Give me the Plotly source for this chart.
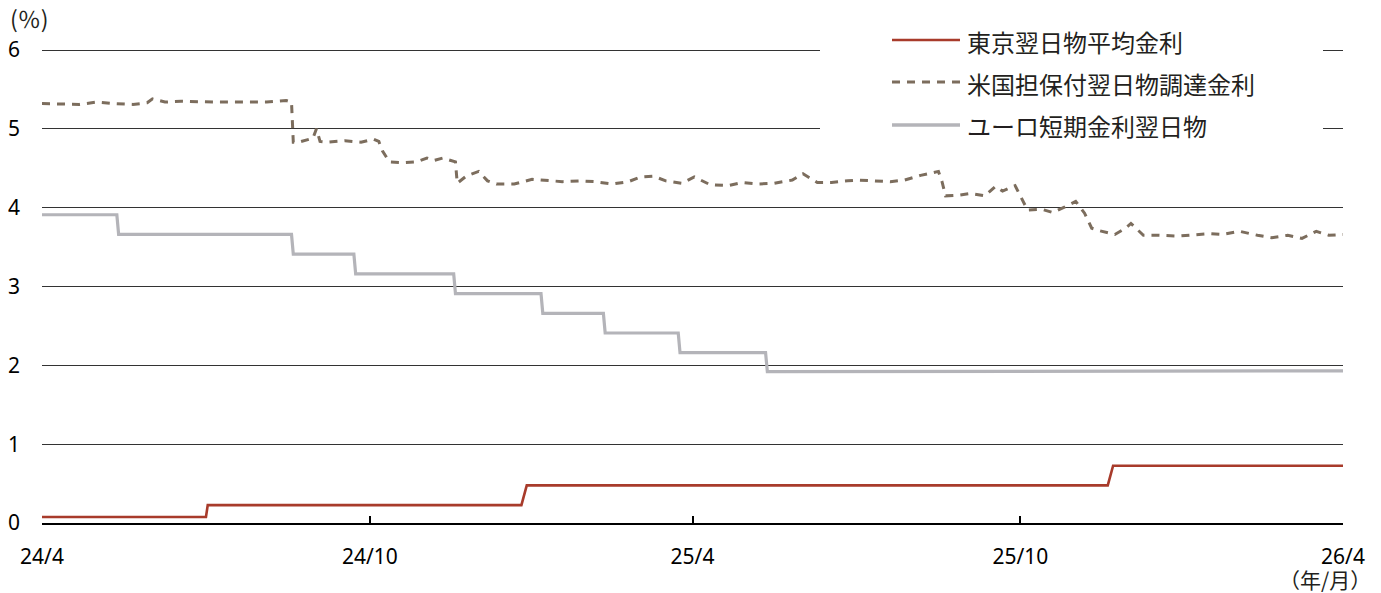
import plotly.graph_objects as go

# ---------------- data ----------------
tona_dates = ["2024-04-30", "2024-07-31", "2024-08-01", "2025-01-24", "2025-01-27",
              "2025-12-19", "2025-12-22", "2026-04-30"]
tona_values = [0.077, 0.077, 0.227, 0.227, 0.477, 0.477, 0.727, 0.727]

estr_dates = ["2024-04-30", "2024-06-11", "2024-06-12", "2024-09-17", "2024-09-18",
              "2024-10-22", "2024-10-23", "2024-12-17", "2024-12-18", "2025-02-04",
              "2025-02-05", "2025-03-11", "2025-03-12", "2025-04-22", "2025-04-23",
              "2025-06-10", "2025-06-11", "2026-04-30"]
estr_values = [3.91, 3.91, 3.66, 3.66, 3.41, 3.41, 3.16, 3.16, 2.91, 2.91,
               2.66, 2.66, 2.41, 2.41, 2.16, 2.16, 1.92, 1.93]

sofr_dates = [
    "2024-04-30", "2024-05-11", "2024-05-21", "2024-05-31", "2024-06-10", "2024-06-20",
    "2024-06-28", "2024-07-01", "2024-07-08", "2024-07-17", "2024-07-28", "2024-08-05",
    "2024-08-14", "2024-08-23", "2024-09-03", "2024-09-14", "2024-09-17", "2024-09-18",
    "2024-09-21", "2024-09-29", "2024-10-01", "2024-10-03", "2024-10-07", "2024-10-17",
    "2024-10-26", "2024-11-02", "2024-11-05", "2024-11-07", "2024-11-11", "2024-11-19",
    "2024-11-26", "2024-12-02", "2024-12-06", "2024-12-11", "2024-12-16", "2024-12-18",
    "2024-12-19", "2024-12-24", "2024-12-31", "2025-01-05", "2025-01-10", "2025-01-20",
    "2025-01-30", "2025-02-08", "2025-02-16", "2025-02-26", "2025-03-06", "2025-03-16",
    "2025-03-25", "2025-04-01", "2025-04-08", "2025-04-15", "2025-04-24", "2025-05-01",
    "2025-05-10", "2025-05-20", "2025-05-28", "2025-06-06", "2025-06-15", "2025-06-25",
    "2025-07-01", "2025-07-09", "2025-07-17", "2025-07-26", "2025-08-01", "2025-08-10",
    "2025-08-19", "2025-08-27", "2025-09-05", "2025-09-15", "2025-09-17", "2025-09-19",
    "2025-09-27", "2025-10-03", "2025-10-11", "2025-10-17", "2025-10-21", "2025-10-28",
    "2025-10-31", "2025-11-04", "2025-11-12", "2025-11-18", "2025-11-25", "2025-12-01",
    "2025-12-06", "2025-12-10", "2025-12-14", "2025-12-23", "2025-12-29", "2026-01-01",
    "2026-01-08", "2026-01-17", "2026-01-27", "2026-02-04", "2026-02-14", "2026-02-21",
    "2026-03-03", "2026-03-13", "2026-03-21", "2026-03-30", "2026-04-07", "2026-04-15",
    "2026-04-22", "2026-04-30"]
sofr_values = [
    5.32, 5.31, 5.31, 5.34, 5.32, 5.31,
    5.33, 5.38, 5.34, 5.35, 5.34, 5.34,
    5.34, 5.34, 5.34, 5.36, 5.34, 4.83,
    4.83, 4.88, 5.00, 4.84, 4.83, 4.85,
    4.83, 4.87, 4.84, 4.72, 4.58, 4.57,
    4.58, 4.63, 4.60, 4.63, 4.59, 4.58,
    4.31, 4.40, 4.46, 4.34, 4.30, 4.30,
    4.36, 4.34, 4.33, 4.34, 4.33, 4.30,
    4.33, 4.39, 4.40, 4.34, 4.31, 4.39,
    4.29, 4.28, 4.32, 4.30, 4.31, 4.35,
    4.43, 4.32, 4.32, 4.34, 4.35, 4.34,
    4.33, 4.35, 4.41, 4.46, 4.33, 4.15,
    4.16, 4.18, 4.15, 4.27, 4.21, 4.28,
    4.15, 3.97, 3.98, 3.94, 4.01, 4.08,
    3.93, 3.74, 3.71, 3.66, 3.74, 3.80,
    3.65, 3.65, 3.64, 3.65, 3.67, 3.66,
    3.70, 3.65, 3.62, 3.65, 3.61, 3.70,
    3.65, 3.66]

series_names = ["東京翌日物平均金利", "米国担保付翌日物調達金利", "ユーロ短期金利翌日物"]
x_tick_vals = ["2024-04-30", "2024-10-31", "2025-04-30", "2025-10-31", "2026-04-30"]
x_tick_text = ["24/4", "24/10", "25/4", "25/10", "26/4"]
y_tick_vals = [0, 1, 2, 3, 4, 5, 6]

# ---------------- styles ----------------
RED = "#a83b2b"
BROWN = "#7c6d5d"
GRAY = "#b4b4b9"
CJK = "Noto Sans CJK JP"
DASH = "8px,7px"

fig = go.Figure()
fig.add_trace(go.Scatter(x=estr_dates, y=estr_values, mode="lines", name=series_names[2],
                         line=dict(color=GRAY, width=3.2), showlegend=False))
fig.add_trace(go.Scatter(x=sofr_dates, y=sofr_values, mode="lines", name=series_names[1],
                         line=dict(color=BROWN, width=3, dash=DASH), showlegend=False))
fig.add_trace(go.Scatter(x=tona_dates, y=tona_values, mode="lines", name=series_names[0],
                         line=dict(color=RED, width=2.6), showlegend=False))

# page has an 8px body margin; figure sized to reach the window edges
OFF = 8
W, H = 1373, 585
L, R, T, B = 34, 38, 37, 70
pw, ph = W - L - R, H - T - B
Y_TOP = 6 + 5 / (473 / 6)   # a few pixels of headroom so the 6 gridline is drawn


def px(xpage):
    return (xpage - OFF - L) / pw


def py(ypage):
    return (OFF + T + ph - ypage) / ph


shapes = [
    dict(type="rect", xref="paper", yref="paper", x0=px(820), x1=px(1323),
         y0=py(150), y1=py(26), fillcolor="white", line=dict(width=0), layer="above"),
]
legend_rows = [(40, RED, "solid", 2.6), (82, BROWN, DASH, 3), (125, GRAY, "solid", 3.4)]
annotations = []
for (yrow, col, dash, w), name in zip(legend_rows, series_names):
    shapes.append(dict(type="line", xref="paper", yref="paper", x0=px(892), x1=px(960),
                       y0=py(yrow), y1=py(yrow), line=dict(color=col, width=w, dash=dash),
                       layer="above"))
    annotations.append(dict(text=name, xref="paper", yref="paper", x=px(965), y=py(yrow + 1),
                            xanchor="left", yanchor="middle", showarrow=False,
                            font=dict(family=CJK, size=24, color="#231f20")))

annotations.append(dict(text="(％)", xref="paper", yref="paper", x=px(9), y=py(18),
                        xanchor="left", yanchor="middle", showarrow=False, borderpad=0,
                        font=dict(family=CJK, size=23, color="#231f20")))
annotations.append(dict(text="（年/月）", xref="paper", yref="paper", x=px(1373), y=py(579),
                        xanchor="right", yanchor="middle", showarrow=False,
                        font=dict(family=CJK, size=21, color="#231f20")))

fig.update_layout(
    width=W, height=H,
    margin=dict(l=L, r=R, t=T, b=B, autoexpand=False),
    paper_bgcolor="white", plot_bgcolor="white",
    showlegend=False,
    shapes=shapes, annotations=annotations,
    xaxis=dict(
        type="date", range=["2024-04-30", "2026-04-30"],
        tickvals=x_tick_vals, ticktext=x_tick_text,
        showgrid=False, zeroline=False, automargin=False,
        showline=True, linecolor="#000000", linewidth=2,
        ticks="inside", ticklen=7, tickwidth=1.5, tickcolor="#000000",
        tickfont=dict(family="Noto Sans", size=21, color="#000000"),
        ticklabelstandoff=14,
    ),
    yaxis=dict(
        range=[0, Y_TOP], tickvals=y_tick_vals,
        showgrid=True, gridcolor="#333333", gridwidth=1,
        zeroline=False, showline=False, ticks="", automargin=False,
        tickfont=dict(family="Noto Sans", size=21, color="#000000"),
        ticklabelstandoff=21,
    ),
)

fig.write_html("out.html")
